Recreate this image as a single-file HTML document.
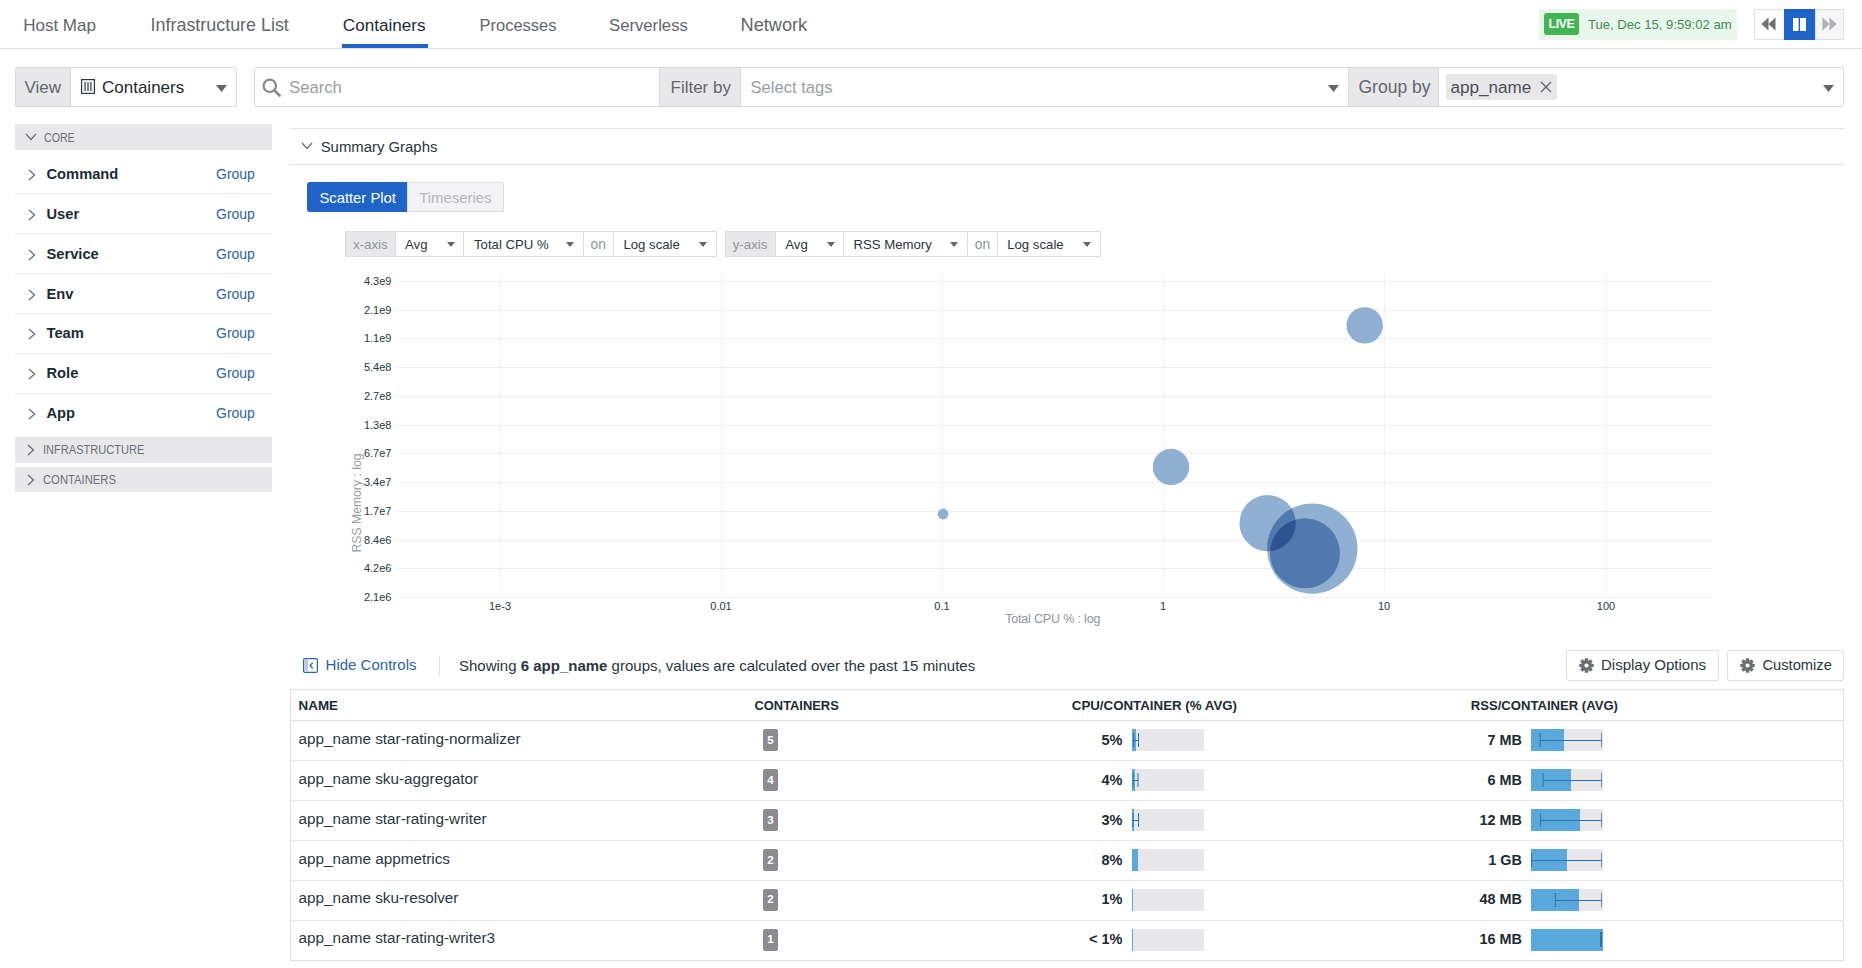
<!DOCTYPE html>
<html><head><meta charset="utf-8"><title>Containers</title>
<style>
html,body{margin:0;padding:0;background:#fff;}
body{width:1862px;height:968px;position:relative;overflow:hidden;font-family:"Liberation Sans",sans-serif;}
.t{position:absolute;white-space:nowrap;}
.r{position:absolute;box-sizing:border-box;}
b{font-weight:bold;}
</style></head><body>
<div class="t" style="left:23.20px;top:17px;font-size:17px;line-height:17px;color:#62666d;">Host Map</div>
<div class="t" style="left:150.60px;top:17px;font-size:17.9px;line-height:17.9px;color:#62666d;">Infrastructure List</div>
<div class="t" style="left:342.80px;top:17px;font-size:17.1px;line-height:17.1px;color:#1c2b34;">Containers</div>
<div class="t" style="left:479.50px;top:17px;font-size:16.5px;line-height:16.5px;color:#62666d;">Processes</div>
<div class="t" style="left:609.00px;top:18px;font-size:16.7px;line-height:16.7px;color:#62666d;">Serverless</div>
<div class="t" style="left:740.50px;top:16px;font-size:18.2px;line-height:18.2px;color:#62666d;">Network</div>
<div class="r" style="left:342px;top:44px;width:86px;height:4px;background:#1e64c8;"></div>
<div class="r" style="left:0px;top:48px;width:1862px;height:1px;background:#dedee2;"></div>
<div class="r" style="left:1539px;top:9px;width:198px;height:31px;background:#e9f6ec;"></div>
<div class="r" style="left:1544px;top:13px;width:35px;height:22px;background:#3fb553;border-radius:3px;"></div>
<div class="t" style="left:1261.40px;width:600px;text-align:center;top:18px;font-size:12.5px;line-height:12.5px;color:#fff;font-weight:bold;letter-spacing:-0.55px;">LIVE</div>
<div class="t" style="left:1588.00px;top:18px;font-size:13.1px;line-height:13.1px;color:#3b8f4f;">Tue, Dec 15, 9:59:02 am</div>
<div class="r" style="left:1754px;top:9px;width:90px;height:31px;background:#fff;box-shadow:inset 0 0 0 1px #dfdfe2;border-radius:2px;"></div>
<div class="r" style="left:1815px;top:9px;width:29px;height:31px;background:#f6f6f7;box-shadow:inset 0 0 0 1px #dfdfe2;border-radius:0 2px 2px 0;"></div>
<div class="r" style="left:1784px;top:9px;width:31px;height:31px;background:#1e64c8;"></div>
<svg class="r" style="left:1761px;top:17px" width="15" height="14" viewBox="0 0 15 14"><path d="M7.5 0.5 L0.5 7 L7.5 13.5Z M14.5 0.5 L7.5 7 L14.5 13.5Z" fill="#6b6e75"/></svg>
<svg class="r" style="left:1793px;top:18px" width="14" height="13" viewBox="0 0 14 13"><rect x="0" y="0" width="5.6" height="13.4" fill="#fff"/><rect x="7" y="0" width="6" height="13.4" fill="#fff"/></svg>
<svg class="r" style="left:1822px;top:17px" width="15" height="14" viewBox="0 0 15 14"><path d="M0.5 0.5 L7.5 7 L0.5 13.5Z M7.5 0.5 L14.5 7 L7.5 13.5Z" fill="#aeb0b5"/></svg>
<div class="r" style="left:15px;top:67px;width:222px;height:40px;background:#fff;box-shadow:inset 0 0 0 1px #d9d9dd;border-radius:3px;"></div>
<div class="r" style="left:15px;top:67px;width:56px;height:40px;background:#e8e8eb;box-shadow:inset 0 0 0 1px #d9d9dd;border-radius:3px 0 0 3px;"></div>
<div class="t" style="left:24.50px;top:79px;font-size:17px;line-height:17px;color:#62666d;">View</div>
<svg class="r" style="left:81px;top:79px" width="14" height="15" viewBox="0 0 14 15"><rect x="0.6" y="0.6" width="12.8" height="13.8" fill="none" stroke="#2a3640" stroke-width="1.2"/><rect x="3.5" y="3" width="1.2" height="9" fill="#2a3640"/><rect x="6.4" y="3" width="1.2" height="9" fill="#2a3640"/><rect x="9.3" y="3" width="1.2" height="9" fill="#2a3640"/></svg>
<div class="t" style="left:102.00px;top:79px;font-size:17px;line-height:17px;color:#1c2b34;">Containers</div>
<svg class="r" style="left:216px;top:85px" width="11" height="7" viewBox="0 0 11 7"><path d="M0 0 L11 0 L5.5 7Z" fill="#62666d"/></svg>
<div class="r" style="left:254px;top:67px;width:1590px;height:40px;background:#fff;box-shadow:inset 0 0 0 1px #d9d9dd;border-radius:3px;"></div>
<svg class="r" style="left:262px;top:78px" width="19" height="19" viewBox="0 0 19 19"><circle cx="7.8" cy="7.8" r="6.2" fill="none" stroke="#85888e" stroke-width="2.2"/><path d="M12.2 12.2 L17.5 17.5" stroke="#85888e" stroke-width="2.6" stroke-linecap="round"/></svg>
<div class="t" style="left:289.00px;top:80px;font-size:16.7px;line-height:16.7px;color:#9a9da3;">Search</div>
<div class="r" style="left:659px;top:67px;width:82px;height:40px;background:#e8e8eb;box-shadow:inset 0 0 0 1px #d9d9dd;"></div>
<div class="t" style="left:670.50px;top:79px;font-size:17px;line-height:17px;color:#62666d;">Filter by</div>
<div class="t" style="left:750.50px;top:80px;font-size:16.6px;line-height:16.6px;color:#9a9da3;">Select tags</div>
<svg class="r" style="left:1328px;top:85px" width="11" height="7" viewBox="0 0 11 7"><path d="M0 0 L11 0 L5.5 7Z" fill="#62666d"/></svg>
<div class="r" style="left:1348px;top:67px;width:91px;height:40px;background:#e8e8eb;box-shadow:inset 0 0 0 1px #d9d9dd;"></div>
<div class="t" style="left:1358.50px;top:79px;font-size:17.5px;line-height:17.5px;color:#62666d;">Group by</div>
<div class="r" style="left:1446px;top:74px;width:111px;height:26px;background:#e8e8eb;border-radius:3px;"></div>
<div class="t" style="left:1450.50px;top:79px;font-size:17.1px;line-height:17.1px;color:#4a4e55;">app_name</div>
<svg class="r" style="left:1540px;top:81px" width="12" height="12" viewBox="0 0 12 12"><path d="M1 1 L11 11 M11 1 L1 11" stroke="#62666d" stroke-width="1.4"/></svg>
<svg class="r" style="left:1823px;top:85px" width="11" height="7" viewBox="0 0 11 7"><path d="M0 0 L11 0 L5.5 7Z" fill="#62666d"/></svg>
<div class="r" style="left:15px;top:124px;width:257px;height:26px;background:#e8e8eb;"></div>
<svg class="r" style="left:25px;top:133px" width="12" height="8" viewBox="0 0 12 8"><path d="M1 1 L6 6.5 L11 1" fill="none" stroke="#6b6e75" stroke-width="1.3"/></svg>
<div class="t" style="left:43.60px;top:132px;font-size:12.5px;line-height:12.5px;color:#6b6e75;transform:scaleX(0.85);transform-origin:0 0;">CORE</div>
<svg class="r" style="left:28px;top:168.5px" width="8" height="12" viewBox="0 0 8 12"><path d="M1 1 L6.5 6 L1 11" fill="none" stroke="#6b6e75" stroke-width="1.3"/></svg>
<div class="t" style="left:46.50px;top:167px;font-size:14.7px;line-height:14.7px;color:#1c2b34;font-weight:bold;">Command</div>
<div class="t" style="left:216.00px;top:167px;font-size:14px;line-height:14px;color:#2c64a8;">Group</div>
<div class="r" style="left:15px;top:193px;width:257px;height:1px;background:#e6e6e9;"></div>
<svg class="r" style="left:28px;top:208.5px" width="8" height="12" viewBox="0 0 8 12"><path d="M1 1 L6.5 6 L1 11" fill="none" stroke="#6b6e75" stroke-width="1.3"/></svg>
<div class="t" style="left:46.50px;top:207px;font-size:14.7px;line-height:14.7px;color:#1c2b34;font-weight:bold;">User</div>
<div class="t" style="left:216.00px;top:207px;font-size:14px;line-height:14px;color:#2c64a8;">Group</div>
<div class="r" style="left:15px;top:233px;width:257px;height:1px;background:#e6e6e9;"></div>
<svg class="r" style="left:28px;top:248.5px" width="8" height="12" viewBox="0 0 8 12"><path d="M1 1 L6.5 6 L1 11" fill="none" stroke="#6b6e75" stroke-width="1.3"/></svg>
<div class="t" style="left:46.50px;top:247px;font-size:14.7px;line-height:14.7px;color:#1c2b34;font-weight:bold;">Service</div>
<div class="t" style="left:216.00px;top:247px;font-size:14px;line-height:14px;color:#2c64a8;">Group</div>
<div class="r" style="left:15px;top:273px;width:257px;height:1px;background:#e6e6e9;"></div>
<svg class="r" style="left:28px;top:288.5px" width="8" height="12" viewBox="0 0 8 12"><path d="M1 1 L6.5 6 L1 11" fill="none" stroke="#6b6e75" stroke-width="1.3"/></svg>
<div class="t" style="left:46.50px;top:287px;font-size:14.7px;line-height:14.7px;color:#1c2b34;font-weight:bold;">Env</div>
<div class="t" style="left:216.00px;top:287px;font-size:14px;line-height:14px;color:#2c64a8;">Group</div>
<div class="r" style="left:15px;top:313px;width:257px;height:1px;background:#e6e6e9;"></div>
<svg class="r" style="left:28px;top:327.5px" width="8" height="12" viewBox="0 0 8 12"><path d="M1 1 L6.5 6 L1 11" fill="none" stroke="#6b6e75" stroke-width="1.3"/></svg>
<div class="t" style="left:46.50px;top:326px;font-size:14.7px;line-height:14.7px;color:#1c2b34;font-weight:bold;">Team</div>
<div class="t" style="left:216.00px;top:326px;font-size:14px;line-height:14px;color:#2c64a8;">Group</div>
<div class="r" style="left:15px;top:353px;width:257px;height:1px;background:#e6e6e9;"></div>
<svg class="r" style="left:28px;top:367.5px" width="8" height="12" viewBox="0 0 8 12"><path d="M1 1 L6.5 6 L1 11" fill="none" stroke="#6b6e75" stroke-width="1.3"/></svg>
<div class="t" style="left:46.50px;top:366px;font-size:14.7px;line-height:14.7px;color:#1c2b34;font-weight:bold;">Role</div>
<div class="t" style="left:216.00px;top:366px;font-size:14px;line-height:14px;color:#2c64a8;">Group</div>
<div class="r" style="left:15px;top:393px;width:257px;height:1px;background:#e6e6e9;"></div>
<svg class="r" style="left:28px;top:407.5px" width="8" height="12" viewBox="0 0 8 12"><path d="M1 1 L6.5 6 L1 11" fill="none" stroke="#6b6e75" stroke-width="1.3"/></svg>
<div class="t" style="left:46.50px;top:406px;font-size:14.7px;line-height:14.7px;color:#1c2b34;font-weight:bold;">App</div>
<div class="t" style="left:216.00px;top:406px;font-size:14px;line-height:14px;color:#2c64a8;">Group</div>
<div class="r" style="left:15px;top:437px;width:257px;height:26px;background:#e8e8eb;"></div>
<svg class="r" style="left:27px;top:444px" width="8" height="12" viewBox="0 0 8 12"><path d="M1 1 L6.5 6 L1 11" fill="none" stroke="#6b6e75" stroke-width="1.3"/></svg>
<div class="t" style="left:43.40px;top:444px;font-size:12.5px;line-height:12.5px;color:#6b6e75;transform:scaleX(0.885);transform-origin:0 0;">INFRASTRUCTURE</div>
<div class="r" style="left:15px;top:467px;width:257px;height:25px;background:#e8e8eb;"></div>
<svg class="r" style="left:27px;top:473.5px" width="8" height="12" viewBox="0 0 8 12"><path d="M1 1 L6.5 6 L1 11" fill="none" stroke="#6b6e75" stroke-width="1.3"/></svg>
<div class="t" style="left:43.40px;top:474px;font-size:12.5px;line-height:12.5px;color:#6b6e75;transform:scaleX(0.9);transform-origin:0 0;">CONTAINERS</div>
<div class="r" style="left:290px;top:128px;width:1554px;height:1px;background:#e2e2e5;"></div>
<svg class="r" style="left:301px;top:142px" width="12" height="8" viewBox="0 0 12 8"><path d="M1 1 L6 6.5 L11 1" fill="none" stroke="#6b6e75" stroke-width="1.3"/></svg>
<div class="t" style="left:320.70px;top:140px;font-size:14.9px;line-height:14.9px;color:#2a3640;">Summary Graphs</div>
<div class="r" style="left:290px;top:164px;width:1554px;height:1px;background:#e2e2e5;"></div>
<div class="r" style="left:307px;top:182px;width:101px;height:30px;background:#1e64c8;border-radius:3px 0 0 3px;"></div>
<div class="t" style="left:319.40px;top:191px;font-size:14.8px;line-height:14.8px;color:#fff;">Scatter Plot</div>
<div class="r" style="left:407px;top:182px;width:97px;height:30px;background:#f3f3f5;box-shadow:inset 0 0 0 1px #dcdcdf;border-radius:0 3px 3px 0;"></div>
<div class="t" style="left:419.20px;top:191px;font-size:14.9px;line-height:14.9px;color:#b4b6ba;">Timeseries</div>
<div class="r" style="left:345px;top:231px;width:372px;height:26px;background:#fff;box-shadow:inset 0 0 0 1px #dcdcdf;border-radius:2px;"></div>
<div class="r" style="left:345px;top:231px;width:51px;height:26px;background:#e8e8eb;box-shadow:inset 0 0 0 1px #dcdcdf;border-radius:2px 0 0 2px;"></div>
<div class="t" style="left:353.00px;top:238px;font-size:13.3px;line-height:13.3px;color:#909399;">x-axis</div>
<div class="r" style="left:395px;top:231px;width:69px;height:26px;box-shadow:inset 0 0 0 1px #dcdcdf;"></div>
<div class="t" style="left:405.00px;top:238px;font-size:13.2px;line-height:13.2px;color:#2a3640;">Avg</div>
<svg class="r" style="left:447px;top:242px" width="8" height="5" viewBox="0 0 8 5"><path d="M0 0 L8 0 L4.0 5Z" fill="#62666d"/></svg>
<div class="r" style="left:463px;top:231px;width:121px;height:26px;box-shadow:inset 0 0 0 1px #dcdcdf;"></div>
<div class="t" style="left:474.00px;top:238px;font-size:13.2px;line-height:13.2px;color:#2a3640;">Total CPU %</div>
<svg class="r" style="left:566px;top:242px" width="8" height="5" viewBox="0 0 8 5"><path d="M0 0 L8 0 L4.0 5Z" fill="#62666d"/></svg>
<div class="r" style="left:583px;top:231px;width:31px;height:26px;box-shadow:inset 0 0 0 1px #dcdcdf;"></div>
<div class="t" style="left:590.60px;top:238px;font-size:13.8px;line-height:13.8px;color:#909399;">on</div>
<div class="r" style="left:613px;top:231px;width:104px;height:26px;box-shadow:inset 0 0 0 1px #dcdcdf;"></div>
<div class="t" style="left:623.40px;top:238px;font-size:13.2px;line-height:13.2px;color:#2a3640;">Log scale</div>
<svg class="r" style="left:699px;top:242px" width="8" height="5" viewBox="0 0 8 5"><path d="M0 0 L8 0 L4.0 5Z" fill="#62666d"/></svg>
<div class="r" style="left:725px;top:231px;width:376px;height:26px;background:#fff;box-shadow:inset 0 0 0 1px #dcdcdf;border-radius:2px;"></div>
<div class="r" style="left:725px;top:231px;width:51px;height:26px;background:#e8e8eb;box-shadow:inset 0 0 0 1px #dcdcdf;border-radius:2px 0 0 2px;"></div>
<div class="t" style="left:732.70px;top:238px;font-size:13.3px;line-height:13.3px;color:#909399;">y-axis</div>
<div class="r" style="left:775px;top:231px;width:69px;height:26px;box-shadow:inset 0 0 0 1px #dcdcdf;"></div>
<div class="t" style="left:785.30px;top:238px;font-size:13.2px;line-height:13.2px;color:#2a3640;">Avg</div>
<svg class="r" style="left:827px;top:242px" width="8" height="5" viewBox="0 0 8 5"><path d="M0 0 L8 0 L4.0 5Z" fill="#62666d"/></svg>
<div class="r" style="left:843px;top:231px;width:125px;height:26px;box-shadow:inset 0 0 0 1px #dcdcdf;"></div>
<div class="t" style="left:853.40px;top:238px;font-size:13.2px;line-height:13.2px;color:#2a3640;">RSS Memory</div>
<svg class="r" style="left:950px;top:242px" width="8" height="5" viewBox="0 0 8 5"><path d="M0 0 L8 0 L4.0 5Z" fill="#62666d"/></svg>
<div class="r" style="left:967px;top:231px;width:31px;height:26px;box-shadow:inset 0 0 0 1px #dcdcdf;"></div>
<div class="t" style="left:974.80px;top:238px;font-size:13.8px;line-height:13.8px;color:#909399;">on</div>
<div class="r" style="left:997px;top:231px;width:104px;height:26px;box-shadow:inset 0 0 0 1px #dcdcdf;"></div>
<div class="t" style="left:1007.20px;top:238px;font-size:13.2px;line-height:13.2px;color:#2a3640;">Log scale</div>
<svg class="r" style="left:1083px;top:242px" width="8" height="5" viewBox="0 0 8 5"><path d="M0 0 L8 0 L4.0 5Z" fill="#62666d"/></svg>
<svg class="r" style="left:0;top:0" width="1862" height="968"><line x1="395" y1="281.5" x2="1712" y2="281.5" stroke="#f0f0f2" stroke-width="1"/><line x1="395" y1="310.5" x2="1712" y2="310.5" stroke="#f0f0f2" stroke-width="1"/><line x1="395" y1="338.5" x2="1712" y2="338.5" stroke="#f0f0f2" stroke-width="1"/><line x1="395" y1="367.5" x2="1712" y2="367.5" stroke="#f0f0f2" stroke-width="1"/><line x1="395" y1="396.5" x2="1712" y2="396.5" stroke="#f0f0f2" stroke-width="1"/><line x1="395" y1="425.5" x2="1712" y2="425.5" stroke="#f0f0f2" stroke-width="1"/><line x1="395" y1="453.5" x2="1712" y2="453.5" stroke="#f0f0f2" stroke-width="1"/><line x1="395" y1="482.5" x2="1712" y2="482.5" stroke="#f0f0f2" stroke-width="1"/><line x1="395" y1="511.5" x2="1712" y2="511.5" stroke="#f0f0f2" stroke-width="1"/><line x1="395" y1="540.5" x2="1712" y2="540.5" stroke="#f0f0f2" stroke-width="1"/><line x1="395" y1="568.5" x2="1712" y2="568.5" stroke="#f0f0f2" stroke-width="1"/><line x1="395" y1="597.5" x2="1712" y2="597.5" stroke="#f0f0f2" stroke-width="1"/><line x1="500.5" y1="272" x2="500.5" y2="597" stroke="#f2f2f4" stroke-width="1"/><line x1="721.5" y1="272" x2="721.5" y2="597" stroke="#f2f2f4" stroke-width="1"/><line x1="942.5" y1="272" x2="942.5" y2="597" stroke="#f2f2f4" stroke-width="1"/><line x1="1163.5" y1="272" x2="1163.5" y2="597" stroke="#f2f2f4" stroke-width="1"/><line x1="1384.5" y1="272" x2="1384.5" y2="597" stroke="#f2f2f4" stroke-width="1"/><line x1="1606.5" y1="272" x2="1606.5" y2="597" stroke="#f2f2f4" stroke-width="1"/><circle cx="1364.7" cy="325.4" r="18.2" fill="#8fb0d3"/><circle cx="1171" cy="467" r="18.2" fill="#8fb0d3"/><circle cx="943" cy="514" r="5.4" fill="#8fb0d3"/><circle cx="1267.6" cy="523.2" r="28.1" fill="#8fb0d3"/><circle cx="1312.3" cy="548.6" r="45.2" fill="#8fb0d3"/><circle cx="1305" cy="553.3" r="35" fill="#8fb0d3"/><defs><clipPath id="clipB"><circle cx="1312.3" cy="548.6" r="45.2"/></clipPath><clipPath id="clipC"><circle cx="1305" cy="553.3" r="35"/></clipPath></defs><circle cx="1305" cy="553.3" r="35" fill="#5079af"/><circle cx="1267.6" cy="523.2" r="28.1" fill="#5079af" clip-path="url(#clipB)"/><circle cx="1267.6" cy="523.2" r="28.1" fill="#2d5491" clip-path="url(#clipC)"/></svg>
<div class="t" style="left:-208.60px;width:600px;text-align:right;top:276px;font-size:11px;line-height:11px;color:#2a3640;">4.3e9</div>
<div class="t" style="left:-208.60px;width:600px;text-align:right;top:305px;font-size:11px;line-height:11px;color:#2a3640;">2.1e9</div>
<div class="t" style="left:-208.60px;width:600px;text-align:right;top:333px;font-size:11px;line-height:11px;color:#2a3640;">1.1e9</div>
<div class="t" style="left:-208.60px;width:600px;text-align:right;top:362px;font-size:11px;line-height:11px;color:#2a3640;">5.4e8</div>
<div class="t" style="left:-208.60px;width:600px;text-align:right;top:391px;font-size:11px;line-height:11px;color:#2a3640;">2.7e8</div>
<div class="t" style="left:-208.60px;width:600px;text-align:right;top:420px;font-size:11px;line-height:11px;color:#2a3640;">1.3e8</div>
<div class="t" style="left:-208.60px;width:600px;text-align:right;top:448px;font-size:11px;line-height:11px;color:#2a3640;">6.7e7</div>
<div class="t" style="left:-208.60px;width:600px;text-align:right;top:477px;font-size:11px;line-height:11px;color:#2a3640;">3.4e7</div>
<div class="t" style="left:-208.60px;width:600px;text-align:right;top:506px;font-size:11px;line-height:11px;color:#2a3640;">1.7e7</div>
<div class="t" style="left:-208.60px;width:600px;text-align:right;top:535px;font-size:11px;line-height:11px;color:#2a3640;">8.4e6</div>
<div class="t" style="left:-208.60px;width:600px;text-align:right;top:563px;font-size:11px;line-height:11px;color:#2a3640;">4.2e6</div>
<div class="t" style="left:-208.60px;width:600px;text-align:right;top:592px;font-size:11px;line-height:11px;color:#2a3640;">2.1e6</div>
<div class="t" style="left:200.00px;width:600px;text-align:center;top:601px;font-size:11px;line-height:11px;color:#2a3640;">1e-3</div>
<div class="t" style="left:421.00px;width:600px;text-align:center;top:601px;font-size:11px;line-height:11px;color:#2a3640;">0.01</div>
<div class="t" style="left:642.00px;width:600px;text-align:center;top:601px;font-size:11px;line-height:11px;color:#2a3640;">0.1</div>
<div class="t" style="left:863.00px;width:600px;text-align:center;top:601px;font-size:11px;line-height:11px;color:#2a3640;">1</div>
<div class="t" style="left:1084.00px;width:600px;text-align:center;top:601px;font-size:11px;line-height:11px;color:#2a3640;">10</div>
<div class="t" style="left:1306.00px;width:600px;text-align:center;top:601px;font-size:11px;line-height:11px;color:#2a3640;">100</div>
<div class="t" style="left:752.70px;width:600px;text-align:center;top:613px;font-size:12.5px;line-height:12.5px;color:#909399;letter-spacing:-0.17px;">Total CPU % : log</div>
<div class="t" style="left:357px;top:503px;font-size:12.2px;line-height:12.2px;color:#9a9da3;transform:translate(-50%,-50%) rotate(-90deg);">RSS Memory : log</div>
<svg class="r" style="left:303px;top:658px" width="15" height="15" viewBox="0 0 15 15"><rect x="0.6" y="0.6" width="13.8" height="13.8" rx="1.5" fill="none" stroke="#2c64a8" stroke-width="1.2"/><rect x="1.5" y="1.5" width="3.5" height="12" fill="#b9c9ea"/><path d="M9.6 4.6 L7.2 7.5 L9.6 10.4" fill="none" stroke="#2c64a8" stroke-width="1.3"/></svg>
<div class="t" style="left:325.60px;top:657px;font-size:15px;line-height:15px;color:#2c64a8;">Hide Controls</div>
<div class="r" style="left:439px;top:656px;width:1px;height:19px;background:#e0e0e3;"></div>
<div class="t" style="left:459.00px;top:658px;font-size:15px;line-height:15px;color:#2a3640;">Showing <b>6 app_name</b> groups, values are calculated over the past 15 minutes</div>
<div class="r" style="left:1566px;top:650px;width:153px;height:31px;background:#fff;box-shadow:inset 0 0 0 1px #dfdfe2;border-radius:3px;"></div>
<div class="r" style="left:1727px;top:650px;width:117px;height:31px;background:#fff;box-shadow:inset 0 0 0 1px #dfdfe2;border-radius:3px;"></div>
<svg class="r" style="left:1578.5px;top:657.5px" width="15" height="15" viewBox="0 0 15 15"><path fill="#6b6e75" fill-rule="evenodd" d="M12.46 5.63 L14.74 5.96 L14.74 9.04 L12.46 9.37 L12.33 9.69 L13.71 11.53 L11.53 13.71 L9.69 12.33 L9.37 12.46 L9.04 14.74 L5.96 14.74 L5.63 12.46 L5.31 12.33 L3.47 13.71 L1.29 11.53 L2.67 9.69 L2.54 9.37 L0.26 9.04 L0.26 5.96 L2.54 5.63 L2.67 5.31 L1.29 3.47 L3.47 1.29 L5.31 2.67 L5.63 2.54 L5.96 0.26 L9.04 0.26 L9.37 2.54 L9.69 2.67 L11.53 1.29 L13.71 3.47 L12.33 5.31Z M7.5 5.4 A2.1 2.1 0 1 0 7.5 9.6 A2.1 2.1 0 1 0 7.5 5.4Z"/></svg>
<div class="t" style="left:1601.00px;top:657px;font-size:15px;line-height:15px;color:#2a3640;">Display Options</div>
<svg class="r" style="left:1739.5px;top:657.5px" width="15" height="15" viewBox="0 0 15 15"><path fill="#6b6e75" fill-rule="evenodd" d="M12.46 5.63 L14.74 5.96 L14.74 9.04 L12.46 9.37 L12.33 9.69 L13.71 11.53 L11.53 13.71 L9.69 12.33 L9.37 12.46 L9.04 14.74 L5.96 14.74 L5.63 12.46 L5.31 12.33 L3.47 13.71 L1.29 11.53 L2.67 9.69 L2.54 9.37 L0.26 9.04 L0.26 5.96 L2.54 5.63 L2.67 5.31 L1.29 3.47 L3.47 1.29 L5.31 2.67 L5.63 2.54 L5.96 0.26 L9.04 0.26 L9.37 2.54 L9.69 2.67 L11.53 1.29 L13.71 3.47 L12.33 5.31Z M7.5 5.4 A2.1 2.1 0 1 0 7.5 9.6 A2.1 2.1 0 1 0 7.5 5.4Z"/></svg>
<div class="t" style="left:1762.50px;top:658px;font-size:14.7px;line-height:14.7px;color:#2a3640;">Customize</div>
<div class="r" style="left:290px;top:689px;width:1554px;height:272px;background:#fff;box-shadow:inset 0 0 0 1px #e0e0e3;"></div>
<div class="r" style="left:290px;top:720px;width:1554px;height:1px;background:#e0e0e3;"></div>
<div class="t" style="left:298.60px;top:699px;font-size:13.4px;line-height:13.4px;color:#1c2b34;font-weight:bold;">NAME</div>
<div class="t" style="left:754.50px;top:700px;font-size:12.9px;line-height:12.9px;color:#1c2b34;font-weight:bold;">CONTAINERS</div>
<div class="t" style="left:1071.80px;top:699px;font-size:13.3px;line-height:13.3px;color:#1c2b34;font-weight:bold;">CPU/CONTAINER (% AVG)</div>
<div class="t" style="left:1470.80px;top:699px;font-size:13.1px;line-height:13.1px;color:#1c2b34;font-weight:bold;">RSS/CONTAINER (AVG)</div>
<div class="r" style="left:290px;top:760px;width:1554px;height:1px;background:#e6e6e9;"></div>
<div class="t" style="left:298.60px;top:731px;font-size:15.3px;line-height:15.3px;color:#2a3640;">app_name star-rating-normalizer</div>
<div class="r" style="left:763px;top:729px;width:15px;height:22px;background:#8a8c90;border-radius:2px;"></div>
<div class="t" style="left:470.50px;width:600px;text-align:center;top:735px;font-size:11.5px;line-height:11.5px;color:#fff;font-weight:bold;">5</div>
<div class="t" style="left:522.50px;width:600px;text-align:right;top:733px;font-size:14.5px;line-height:14.5px;color:#1c2b34;font-weight:bold;">5%</div>
<div class="r" style="left:1132px;top:729px;width:72px;height:22px;background:#e8e8eb;"></div>
<div class="r" style="left:1132px;top:729px;width:4px;height:22px;background:#5aa9dc;"></div>
<svg class="r" style="left:1130px;top:729px" width="12" height="21"><line x1="3.599999999999909" y1="4" x2="3.599999999999909" y2="18" stroke="#2f6fae" stroke-width="1"/><line x1="8.5" y1="4" x2="8.5" y2="18" stroke="#2f6fae" stroke-width="1"/><line x1="3.599999999999909" y1="11.5" x2="8.5" y2="11.5" stroke="#2f6fae" stroke-width="1"/></svg>
<div class="t" style="left:921.80px;width:600px;text-align:right;top:733px;font-size:14.4px;line-height:14.4px;color:#1c2b34;font-weight:bold;">7 MB</div>
<div class="r" style="left:1531px;top:729px;width:72px;height:22px;background:#e8e8eb;"></div>
<div class="r" style="left:1531px;top:729px;width:33px;height:22px;background:#5aa9dc;"></div>
<svg class="r" style="left:1529px;top:729px" width="76" height="21"><line x1="11.200000000000045" y1="4" x2="11.200000000000045" y2="18" stroke="#2f6fae" stroke-width="1"/><line x1="72.5" y1="4" x2="72.5" y2="18" stroke="#6f8db5" stroke-width="1"/><line x1="11.200000000000045" y1="11.5" x2="72.5" y2="11.5" stroke="#2f6fae" stroke-width="1"/></svg>
<div class="r" style="left:290px;top:800px;width:1554px;height:1px;background:#e6e6e9;"></div>
<div class="t" style="left:298.60px;top:771px;font-size:15.3px;line-height:15.3px;color:#2a3640;">app_name sku-aggregator</div>
<div class="r" style="left:763px;top:769px;width:15px;height:22px;background:#8a8c90;border-radius:2px;"></div>
<div class="t" style="left:470.50px;width:600px;text-align:center;top:775px;font-size:11.5px;line-height:11.5px;color:#fff;font-weight:bold;">4</div>
<div class="t" style="left:522.50px;width:600px;text-align:right;top:773px;font-size:14.5px;line-height:14.5px;color:#1c2b34;font-weight:bold;">4%</div>
<div class="r" style="left:1132px;top:769px;width:72px;height:22px;background:#e8e8eb;"></div>
<div class="r" style="left:1132px;top:769px;width:3px;height:22px;background:#5aa9dc;"></div>
<svg class="r" style="left:1130px;top:769px" width="12" height="21"><line x1="3" y1="4" x2="3" y2="18" stroke="#2f6fae" stroke-width="1"/><line x1="8" y1="4" x2="8" y2="18" stroke="#2f6fae" stroke-width="1"/><line x1="3" y1="11.5" x2="8" y2="11.5" stroke="#2f6fae" stroke-width="1"/></svg>
<div class="t" style="left:921.80px;width:600px;text-align:right;top:773px;font-size:14.4px;line-height:14.4px;color:#1c2b34;font-weight:bold;">6 MB</div>
<div class="r" style="left:1531px;top:769px;width:72px;height:22px;background:#e8e8eb;"></div>
<div class="r" style="left:1531px;top:769px;width:40px;height:22px;background:#5aa9dc;"></div>
<svg class="r" style="left:1529px;top:769px" width="76" height="21"><line x1="14.200000000000045" y1="4" x2="14.200000000000045" y2="18" stroke="#2f6fae" stroke-width="1"/><line x1="72.5" y1="4" x2="72.5" y2="18" stroke="#6f8db5" stroke-width="1"/><line x1="14.200000000000045" y1="11.5" x2="72.5" y2="11.5" stroke="#2f6fae" stroke-width="1"/></svg>
<div class="r" style="left:290px;top:840px;width:1554px;height:1px;background:#e6e6e9;"></div>
<div class="t" style="left:298.60px;top:811px;font-size:15.3px;line-height:15.3px;color:#2a3640;">app_name star-rating-writer</div>
<div class="r" style="left:763px;top:809px;width:15px;height:22px;background:#8a8c90;border-radius:2px;"></div>
<div class="t" style="left:470.50px;width:600px;text-align:center;top:815px;font-size:11.5px;line-height:11.5px;color:#fff;font-weight:bold;">3</div>
<div class="t" style="left:522.50px;width:600px;text-align:right;top:813px;font-size:14.5px;line-height:14.5px;color:#1c2b34;font-weight:bold;">3%</div>
<div class="r" style="left:1132px;top:809px;width:72px;height:22px;background:#e8e8eb;"></div>
<div class="r" style="left:1132px;top:809px;width:2px;height:22px;background:#5aa9dc;"></div>
<svg class="r" style="left:1130px;top:809px" width="12" height="21"><line x1="3" y1="4" x2="3" y2="18" stroke="#2f6fae" stroke-width="1"/><line x1="8.5" y1="4" x2="8.5" y2="18" stroke="#2f6fae" stroke-width="1"/><line x1="3" y1="11.5" x2="8.5" y2="11.5" stroke="#2f6fae" stroke-width="1"/></svg>
<div class="t" style="left:921.80px;width:600px;text-align:right;top:813px;font-size:14.4px;line-height:14.4px;color:#1c2b34;font-weight:bold;">12 MB</div>
<div class="r" style="left:1531px;top:809px;width:72px;height:22px;background:#e8e8eb;"></div>
<div class="r" style="left:1531px;top:809px;width:49px;height:22px;background:#5aa9dc;"></div>
<svg class="r" style="left:1529px;top:809px" width="76" height="21"><line x1="11.700000000000045" y1="4" x2="11.700000000000045" y2="18" stroke="#2f6fae" stroke-width="1"/><line x1="72.5" y1="4" x2="72.5" y2="18" stroke="#6f8db5" stroke-width="1"/><line x1="11.700000000000045" y1="11.5" x2="72.5" y2="11.5" stroke="#2f6fae" stroke-width="1"/></svg>
<div class="r" style="left:290px;top:880px;width:1554px;height:1px;background:#e6e6e9;"></div>
<div class="t" style="left:298.60px;top:851px;font-size:15.3px;line-height:15.3px;color:#2a3640;">app_name appmetrics</div>
<div class="r" style="left:763px;top:849px;width:15px;height:22px;background:#8a8c90;border-radius:2px;"></div>
<div class="t" style="left:470.50px;width:600px;text-align:center;top:855px;font-size:11.5px;line-height:11.5px;color:#fff;font-weight:bold;">2</div>
<div class="t" style="left:522.50px;width:600px;text-align:right;top:853px;font-size:14.5px;line-height:14.5px;color:#1c2b34;font-weight:bold;">8%</div>
<div class="r" style="left:1132px;top:849px;width:72px;height:22px;background:#e8e8eb;"></div>
<div class="r" style="left:1132px;top:849px;width:6px;height:22px;background:#5aa9dc;"></div>
<div class="t" style="left:921.80px;width:600px;text-align:right;top:853px;font-size:14.4px;line-height:14.4px;color:#1c2b34;font-weight:bold;">1 GB</div>
<div class="r" style="left:1531px;top:849px;width:72px;height:22px;background:#e8e8eb;"></div>
<div class="r" style="left:1531px;top:849px;width:36px;height:22px;background:#5aa9dc;"></div>
<svg class="r" style="left:1529px;top:849px" width="76" height="21"><line x1="2.7000000000000455" y1="4" x2="2.7000000000000455" y2="18" stroke="#2f6fae" stroke-width="1"/><line x1="72.5" y1="4" x2="72.5" y2="18" stroke="#6f8db5" stroke-width="1"/><line x1="2.7000000000000455" y1="11.5" x2="72.5" y2="11.5" stroke="#2f6fae" stroke-width="1"/></svg>
<div class="r" style="left:290px;top:920px;width:1554px;height:1px;background:#e6e6e9;"></div>
<div class="t" style="left:298.60px;top:890px;font-size:15.3px;line-height:15.3px;color:#2a3640;">app_name sku-resolver</div>
<div class="r" style="left:763px;top:889px;width:15px;height:22px;background:#8a8c90;border-radius:2px;"></div>
<div class="t" style="left:470.50px;width:600px;text-align:center;top:894px;font-size:11.5px;line-height:11.5px;color:#fff;font-weight:bold;">2</div>
<div class="t" style="left:522.50px;width:600px;text-align:right;top:892px;font-size:14.5px;line-height:14.5px;color:#1c2b34;font-weight:bold;">1%</div>
<div class="r" style="left:1132px;top:889px;width:72px;height:22px;background:#e8e8eb;"></div>
<div class="r" style="left:1132px;top:889px;width:1px;height:22px;background:#5aa9dc;"></div>
<div class="t" style="left:921.80px;width:600px;text-align:right;top:892px;font-size:14.4px;line-height:14.4px;color:#1c2b34;font-weight:bold;">48 MB</div>
<div class="r" style="left:1531px;top:889px;width:72px;height:22px;background:#e8e8eb;"></div>
<div class="r" style="left:1531px;top:889px;width:48px;height:22px;background:#5aa9dc;"></div>
<svg class="r" style="left:1529px;top:889px" width="76" height="21"><line x1="26.299999999999955" y1="4" x2="26.299999999999955" y2="18" stroke="#2f6fae" stroke-width="1"/><line x1="72.5" y1="4" x2="72.5" y2="18" stroke="#6f8db5" stroke-width="1"/><line x1="26.299999999999955" y1="11.5" x2="72.5" y2="11.5" stroke="#2f6fae" stroke-width="1"/></svg>
<div class="t" style="left:298.60px;top:930px;font-size:15.3px;line-height:15.3px;color:#2a3640;">app_name star-rating-writer3</div>
<div class="r" style="left:763px;top:929px;width:15px;height:22px;background:#8a8c90;border-radius:2px;"></div>
<div class="t" style="left:470.50px;width:600px;text-align:center;top:934px;font-size:11.5px;line-height:11.5px;color:#fff;font-weight:bold;">1</div>
<div class="t" style="left:522.50px;width:600px;text-align:right;top:932px;font-size:14.5px;line-height:14.5px;color:#1c2b34;font-weight:bold;">&lt; 1%</div>
<div class="r" style="left:1132px;top:929px;width:72px;height:22px;background:#e8e8eb;"></div>
<div class="r" style="left:1132px;top:929px;width:1px;height:22px;background:#5aa9dc;"></div>
<div class="t" style="left:921.80px;width:600px;text-align:right;top:932px;font-size:14.4px;line-height:14.4px;color:#1c2b34;font-weight:bold;">16 MB</div>
<div class="r" style="left:1531px;top:929px;width:72px;height:22px;background:#e8e8eb;"></div>
<div class="r" style="left:1531px;top:929px;width:72px;height:22px;background:#5aa9dc;"></div>
<div class="r" style="left:1600px;top:932px;width:2px;height:15px;background:#2f6fae;"></div>
</body></html>
